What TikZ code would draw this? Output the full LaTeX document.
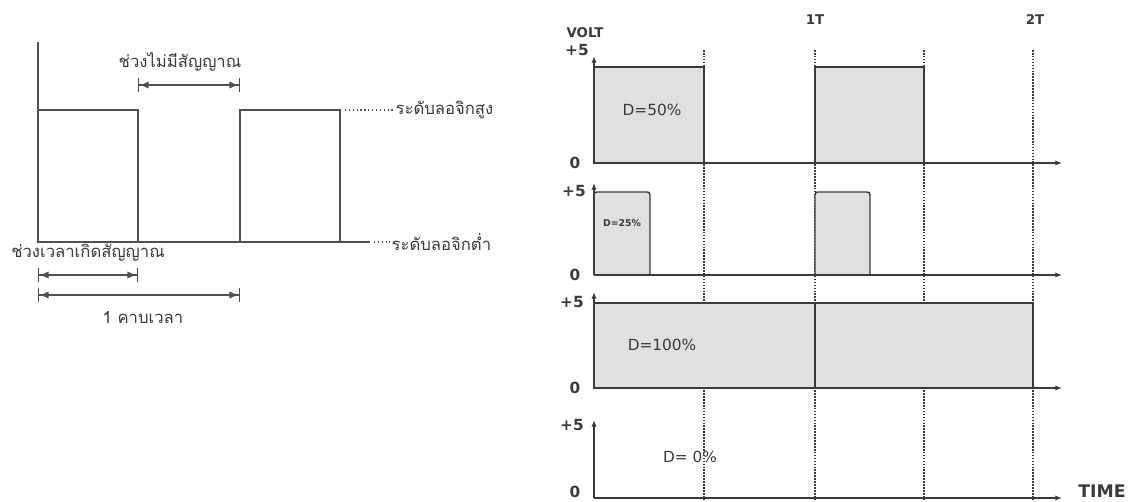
\documentclass[tikz,border=0pt]{standalone}
\usepackage{fontspec}
\setmainfont{DejaVu Sans}
\newfontfamily\thaifont[Script=Thai]{Loma}
\usetikzlibrary{arrows.meta,positioning}
\definecolor{sig}{HTML}{3A3A3A}
\definecolor{sigfill}{HTML}{E0E0E0}
\definecolor{guide}{HTML}{505050}
\tikzset{
  thinwave/.style={line width=1pt,guide},
  wave/.style={line width=1.1pt,sig},
  pulse/.style={wave,fill=sigfill},
  gridline/.style={densely dotted,line width=1.2pt,sig},
  levelline/.style={dotted,line width=0.9pt,guide},
  axis/.style={-{Latex[length=5pt,width=4pt]},line width=1.1pt,sig},
  span/.style={{Bar[width=10pt]Latex[length=7pt,width=5.5pt]}-{Latex[length=7pt,width=5.5pt]Bar[width=10pt]},line width=1pt,guide},
  thlabel/.style={font=\thaifont\fontsize{12.5}{14}\selectfont,text=sig,inner sep=1pt},
  duty/.style={font=\fontsize{11.5}{13}\selectfont,text=sig,inner sep=1pt},
  level/.style={font=\bfseries\fontsize{11.5}{13}\selectfont,text=sig,inner sep=1pt},
  tick/.style={font=\bfseries\fontsize{10}{12}\selectfont,text=sig,inner sep=1pt}
}

\begin{document}
\begin{tikzpicture}[x=0.75pt,y=-0.75pt]
\useasboundingbox (0,0) rectangle (1131,502);
% left: logic levels
\draw[thinwave] (38,42) -- (38,242) -- (370,242);
\draw[thinwave] (38,242) |- (138,110) -- (138,242);
\draw[thinwave] (240,242) |- (340,110) -- (340,242);
\coordinate (hiend) at (345,110);
\coordinate (loend) at (374,242);
\node[thlabel,anchor=west] (high) at (394,110) {ระดับลอจิกสูง};
\node[thlabel,anchor=west] (low) at (390,242) {ระดับลอจิกต่ำ};
\draw[levelline] (hiend) -- (high.west);
\draw[levelline] (loend) -- (low.west);
\node[thlabel] (gaptxt) at (180,62) {ช่วงไม่มีสัญญาณ};
\coordinate (gapL) at (138,85);
\coordinate (gapR) at (240,85);
\draw[span] (gapL) -- (gapR);
\node[thlabel] (ontxt) at (88,253) {ช่วงเวลาเกิดสัญญาณ};
\coordinate (onL) at (38,275);
\coordinate (onR) at (138,275);
\draw[span] (onL) -- (onR);
\coordinate (perL) at (38,295);
\coordinate (perR) at (240,295);
\draw[span] (perL) -- (perR);
\node[thlabel] (pertxt) at (143,318) {1 คาบเวลา};
% right: duty cycles
\foreach \gx in {704,815,924,1033}
  \draw[gridline] (\gx,50) -- (\gx,502);
\node[tick] (volt) at (585,33) {VOLT};
\node[tick] (t1) at (815,20) {1T};
\node[tick] (t2) at (1035,20) {2T};
% D=50%
\draw[pulse] (594,163) rectangle (704,67);
\draw[pulse] (815,163) rectangle (924,67);
\draw[axis] (594,163) -- (1062,163);
\draw[axis] (594,163) -- (594,56);
\node[level] (p1hi) at (577,50) {+5};
\node[level] (p1lo) at (575,163) {0};
\node[duty] (d50) at (652,110) {D=50\%};
% D=25%
\draw[pulse,rounded corners=2pt] (594,275) -- (594,192) -- (650,192) -- (650,275);
\draw[pulse,rounded corners=2pt] (815,275) -- (815,192) -- (870,192) -- (870,275);
\draw[axis] (594,275) -- (1062,275);
\draw[axis] (594,275) -- (594,183);
\node[level] (p2hi) at (574,191) {+5};
\node[level] (p2lo) at (575,275) {0};
\node[font=\bfseries\fontsize{7}{8}\selectfont,text=sig,inner sep=1pt] (d25) at (622,223) {D=25\%};
% D=100%
\draw[pulse] (594,388) rectangle (1033,303);
\draw[wave] (815,388) -- (815,303);
\draw[axis] (594,388) -- (1062,388);
\draw[axis] (594,388) -- (594,292);
\node[level] (p3hi) at (572,302) {+5};
\node[level] (p3lo) at (575,388) {0};
\node[duty] (d100) at (662,345) {D=100\%};
% D=0%
\draw[axis] (594,498) -- (1062,498);
\draw[axis] (594,498) -- (594,420);
\node[level] (p4hi) at (572,425) {+5};
\node[level] (p4lo) at (575,492) {0};
\node[duty] (d0) at (690,457) {D= 0\%};
\node[tick,font=\bfseries\fontsize{13}{15}\selectfont] (time) at (1102,491) {TIME};
\end{tikzpicture}
\end{document}
